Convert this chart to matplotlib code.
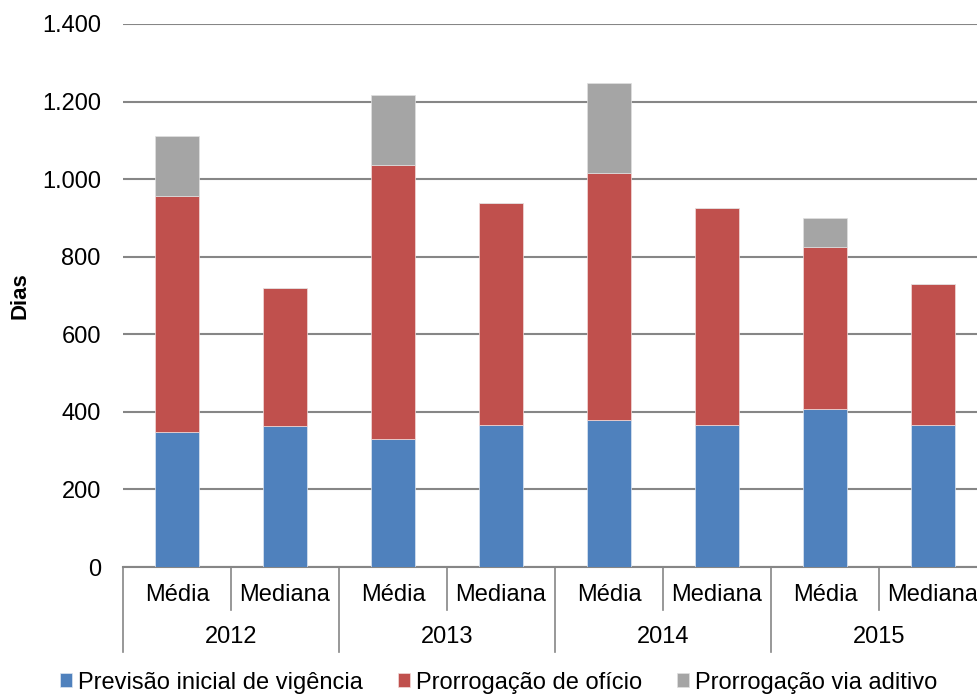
import numpy as np
import matplotlib.pyplot as plt
from matplotlib.transforms import blended_transform_factory

plt.rcParams['font.family'] = ['Liberation Sans', 'DejaVu Sans']

# dados (dias)
anos = ['2012', '2013', '2014', '2015']
medidas = ['Média', 'Mediana']
previsao = [348, 363, 330, 365, 379, 365, 407, 365]
oficio = [608, 356, 706, 573, 637, 560, 418, 365]
aditivo = [155, 0, 181, 0, 232, 0, 75, 0]

cor_azul = '#4F81BD'
cor_verm = '#C0504D'
cor_cinza = '#A5A5A5'

fig = plt.figure(figsize=(9.78, 6.98), dpi=100)
ax = fig.add_axes([123 / 978, 1 - 567 / 698, 864 / 978, 543 / 698])

x = np.arange(len(previsao))
prev = np.array(previsao)
ofi = np.array(oficio)
adi = np.array(aditivo)
w = 0.41
ax.bar(x, prev, w, color=cor_azul, edgecolor='#dde6f2', linewidth=0.5, label='Previsão inicial de vigência', zorder=3)
ax.bar(x, ofi, w, bottom=prev, color=cor_verm, edgecolor='#f2dcdb', linewidth=0.5, label='Prorrogação de ofício', zorder=3)
ax.bar(x, adi, w, bottom=prev + ofi, color=cor_cinza, edgecolor='#e0e0e0', linewidth=0.5, label='Prorrogação via aditivo', zorder=3)

ax.set_xlim(-0.5, len(x) - 0.5)
ax.set_ylim(0, 1400)
ax.set_yticks(range(0, 1401, 200))
ax.set_yticklabels([f'{v:,}'.replace(',', '.') for v in range(0, 1401, 200)], fontsize=17)
ax.yaxis.grid(True, color='#868686', linewidth=1.5, zorder=0)
ax.set_axisbelow(True)
ax.tick_params(axis='y', length=0, pad=16)
ax.set_xticks([])
for s in ['top', 'right', 'left']:
    ax.spines[s].set_visible(False)
ax.spines['bottom'].set_color('#868686')
ax.spines['bottom'].set_linewidth(1.5)

ax.set_ylabel('Dias', fontsize=16, fontweight='bold', labelpad=8)

# eixo x em dois níveis
tr = blended_transform_factory(ax.transData, ax.transAxes)
for i in range(len(x)):
    ax.text(i, -0.0516, medidas[i % 2], transform=tr, ha='center', va='center', fontsize=17)
for j, ano in enumerate(anos):
    ax.text(2 * j + 0.5, -0.129, ano, transform=tr, ha='center', va='center', fontsize=17)
for b in np.arange(-0.5, len(x), 1.0):
    ymin = -0.157 if (b + 0.5) % 2 == 0 else -0.079
    ax.plot([b, b], [0, ymin], transform=tr, color='#868686', linewidth=1.2, clip_on=False)

fig.legend(loc='lower center', bbox_to_anchor=(0.51, -0.024), ncol=3, frameon=False,
           fontsize=17, handlelength=0.5, handleheight=0.5, handletextpad=0.25, columnspacing=1.5)

fig.savefig('out.png', dpi=100)
